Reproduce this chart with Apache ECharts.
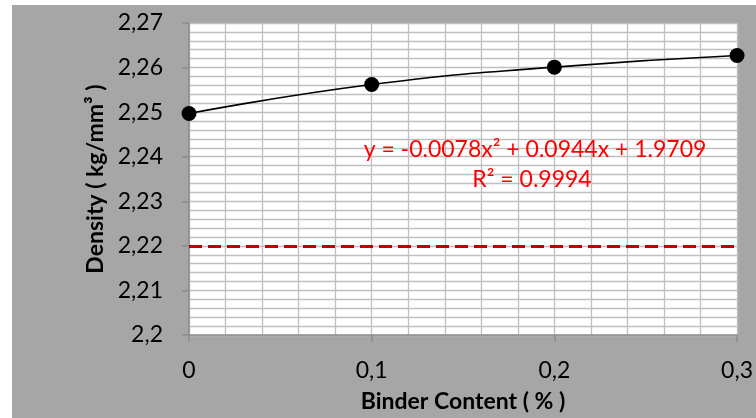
<!DOCTYPE html>
<html lang="en">
<head>
    <meta charset="UTF-8">
    <title>Density vs Binder Content</title>
    <script src="https://cdn.jsdelivr.net/npm/echarts@6/dist/echarts.min.js"></script>
    <style>
        html, body { margin: 0; padding: 0; background: #fff; }
    </style>
</head>
<body>
    <div id="main" style="width: 756px; height: 418px;"></div>
    <script>
        // data
        const binderContent = [0, 0.1, 0.2, 0.3];
        const density = [2.2497, 2.2562, 2.2601, 2.2627];
        const referenceDensity = 2.22;
        const yTicks = { min: 2.2, max: 2.27, step: 0.01 };
        const xTicks = { min: 0, max: 0.3, step: 0.1 };
        const trendText = ["y = -0.0078x\u00b2 + 0.0944x + 1.9709", "R\u00b2 = 0.9994"];

        const font = "Lato, 'Liberation Sans', sans-serif";
        const commaFmt = v => String(parseFloat(v.toFixed(3))).replace(".", ",");

        const chart = echarts.init(document.getElementById("main"));
        const points = binderContent.map((x, i) => [x, density[i]]);

        const gridLine = { show: true, lineStyle: { color: "#BFBFBF", width: 1.3 } };
        const axisGray = { color: "#8C8C8C", width: 1.5 };

        const option = {
            animation: false,
            backgroundColor: "#A6A6A6",
            textStyle: { fontFamily: font },
            graphic: [
                // white margin strips round the gray chart area
                { type: "rect", shape: { x: 0, y: 0, width: 12, height: 418 }, style: { fill: "#fff" } },
                { type: "rect", shape: { x: 0, y: 0, width: 756, height: 5 }, style: { fill: "#fff" } },
                { type: "text", x: 535, y: 138, z: 10, style: { text: trendText[0], fill: "#FF0000", font: "23px " + font, align: "center" } },
                { type: "text", x: 532, y: 168, z: 10, style: { text: trendText[1], fill: "#FF0000", font: "23px " + font, align: "center" } }
            ],
            grid: {
                left: 189, top: 23, right: 18, bottom: 82,
                show: true, backgroundColor: "#fff", borderWidth: 0
            },
            xAxis: {
                type: "value",
                min: xTicks.min, max: xTicks.max, interval: xTicks.step,
                name: "Binder Content ( % )",
                nameLocation: "middle", nameGap: 55,
                nameTextStyle: { fontSize: 23, fontWeight: "bold", color: "#000", fontFamily: font },
                axisLine: { show: true, lineStyle: axisGray },
                axisTick: { show: true, length: 7, lineStyle: axisGray },
                axisLabel: { margin: 24, fontSize: 23, color: "#000", fontFamily: font, formatter: commaFmt },
                splitLine: gridLine,
                minorTick: { show: false, splitNumber: 5 },
                minorSplitLine: gridLine
            },
            yAxis: {
                type: "value",
                min: yTicks.min, max: yTicks.max, interval: yTicks.step,
                name: "Density ( kg/mm\u00b3 )",
                nameLocation: "middle", nameGap: 80, nameRotate: 90,
                nameTextStyle: { fontSize: 23, fontWeight: "bold", color: "#000", fontFamily: font },
                axisLine: { show: true, lineStyle: axisGray },
                axisTick: { show: true, length: 7, lineStyle: axisGray },
                axisLabel: { margin: 26, fontSize: 23, color: "#000", fontFamily: font, formatter: commaFmt },
                splitLine: gridLine,
                minorTick: { show: false, splitNumber: 5 },
                minorSplitLine: gridLine
            },
            series: [{
                type: "line",
                data: points,
                smooth: 0.5,
                symbol: "circle",
                symbolSize: 15,
                itemStyle: { color: "#000" },
                lineStyle: { color: "#000", width: 1.6 },
                markLine: {
                    silent: true,
                    symbol: "none",
                    label: { show: false },
                    lineStyle: { color: "#C00000", width: 3, type: [13, 6] },
                    data: [{ yAxis: referenceDensity }]
                },
                z: 5
            }]
        };
        chart.setOption(option);
    </script>
</body>
</html>
